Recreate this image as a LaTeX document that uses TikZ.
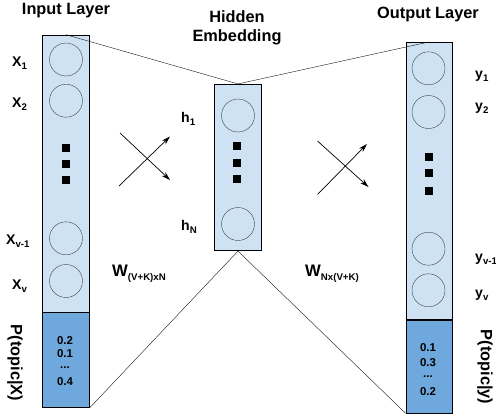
\documentclass[tikz,border=0pt]{standalone}
\usepackage{fontspec}
\setmainfont{Liberation Sans}
\usepackage{tikz}
\usetikzlibrary{arrows.meta}

\definecolor{lightblue}{HTML}{CFE2F3}
\definecolor{darkblue}{HTML}{6FA8DC}

\tikzset{
  col/.style={rectangle,draw,fill=lightblue,inner sep=0pt,minimum width=0.94cm},
  prob/.style={rectangle,draw,fill=darkblue,inner sep=0pt,minimum width=0.94cm},
  unit/.style={circle,draw=black!80,very thin,inner sep=0pt,minimum size=0.66cm},
  dot/.style={rectangle,fill=black,inner sep=0pt,minimum size=0.16cm},
  title/.style={font=\fontsize{9.3}{11}\selectfont\bfseries,align=center},
  lbl/.style={font=\fontsize{8}{9}\selectfont\bfseries,anchor=west},
  wlbl/.style={font=\fontsize{9.5}{10}\selectfont\bfseries,anchor=west},
  num/.style={font=\fontsize{6.5}{7}\selectfont\bfseries},
  side/.style={font=\fontsize{9.3}{11}\selectfont\bfseries,rotate=-90}
}
\newcommand{\sub}[1]{\raisebox{-0.45ex}{\fontsize{5.5}{6}\selectfont #1}}

\begin{document}
\begin{tikzpicture}[x=0.02cm,y=-0.02cm,>={Stealth[length=5pt,width=3pt]}]
    \useasboundingbox (0,0) rectangle (496,416);
    % columns
    \node at (66,173.5) [col,minimum height=5.54cm] (inl) {};
    \node at (66,359.8) [prob,minimum height=1.9cm] (inp) {};
    \node at (238,167.5) [col,minimum width=0.95cm,minimum height=3.33cm] (hid) {};
    \node at (429,181) [col,minimum width=0.92cm,minimum height=5.55cm] (outl) {};
    \node at (429,366.5) [prob,minimum width=0.92cm,minimum height=1.86cm] (outp) {};
    % units
    \node at (66,59.5) [unit] (x1) {};
    \node at (66,100.7) [unit] (x2) {};
    \node at (66,148) [dot] (xa) {};
    \node at (66,164) [dot] (xb) {};
    \node at (66,180) [dot] (xc) {};
    \node at (66,238.3) [unit] (xv1) {};
    \node at (66,281) [unit] (xv) {};
    \node at (238,115.5) [unit] (h1) {};
    \node at (237,146) [dot] (ha) {};
    \node at (237,163) [dot] (hb) {};
    \node at (237,179) [dot] (hc) {};
    \node at (238,224) [unit] (hN) {};
    \node at (428.5,68.3) [unit] (y1) {};
    \node at (428.5,112) [unit] (y2) {};
    \node at (429,157) [dot] (ya) {};
    \node at (429,173) [dot] (yb) {};
    \node at (429,191) [dot] (yc) {};
    \node at (428.5,248.7) [unit] (yv1) {};
    \node at (428.5,290.3) [unit] (yv) {};
    % funnel
    \draw[very thin] (inl.north) -- (hid.north) -- (outl.north);
    \draw[very thin] (inp.south east) -- (hid.south) -- (outp.south west);
    % crosses
    \coordinate (a1) at (119,186);
    \coordinate (a2) at (170,136.5);
    \coordinate (b1) at (120,133);
    \coordinate (b2) at (170,180);
    \coordinate (c1) at (317.5,194.5);
    \coordinate (c2) at (367,144);
    \coordinate (d1) at (317.5,141);
    \coordinate (d2) at (368.5,187);
    \draw[->] (a1) -- (a2);
    \draw[->] (b1) -- (b2);
    \draw[->] (c1) -- (c2);
    \draw[->] (d1) -- (d2);
    % titles
    \node at (66,11) [title] (tin) {Input Layer};
    \node at (237,28) [title] (thid) {Hidden\\Embedding};
    \node at (428,14) [title] (tout) {Output Layer};
    % labels
    \node at (6,63) [lbl] (lx1) {X\sub{1}};
    \node at (6,104) [lbl] (lx2) {X\sub{2}};
    \node at (0,241) [lbl] (lxv1) {X\sub{v-1}};
    \node at (6,286) [lbl] (lxv) {X\sub{v}};
    \node at (175,119) [lbl] (lh1) {h\sub{1}};
    \node at (175,227) [lbl] (lhN) {h\sub{N}};
    \node at (469,76) [lbl] (ly1) {y\sub{1}};
    \node at (469,108) [lbl] (ly2) {y\sub{2}};
    \node at (469,259) [lbl] (lyv1) {y\sub{v-1}};
    \node at (469,295) [lbl] (lyv) {y\sub{v}};
    \node at (106,274) [wlbl] (w1) {W\sub{(V+K)xN}};
    \node at (299,274) [wlbl] (w2) {W\sub{Nx(V+K)}};
    \node at (15,363) [side] (px) {P(topic|X)};
    \node at (485,367) [side] (py) {P(topic|y)};
    % probabilities
    \node at (65,341) [num] (p1) {0.2};
    \node at (65,354) [num] (p2) {0.1};
    \node at (65,368) [num] (p3) {...};
    \node at (65,382) [num] (p4) {0.4};
    \node at (428,348) [num] (q1) {0.1};
    \node at (428,363) [num] (q2) {0.3};
    \node at (428,377) [num] (q3) {...};
    \node at (428,392) [num] (q4) {0.2};
\end{tikzpicture}
\end{document}
